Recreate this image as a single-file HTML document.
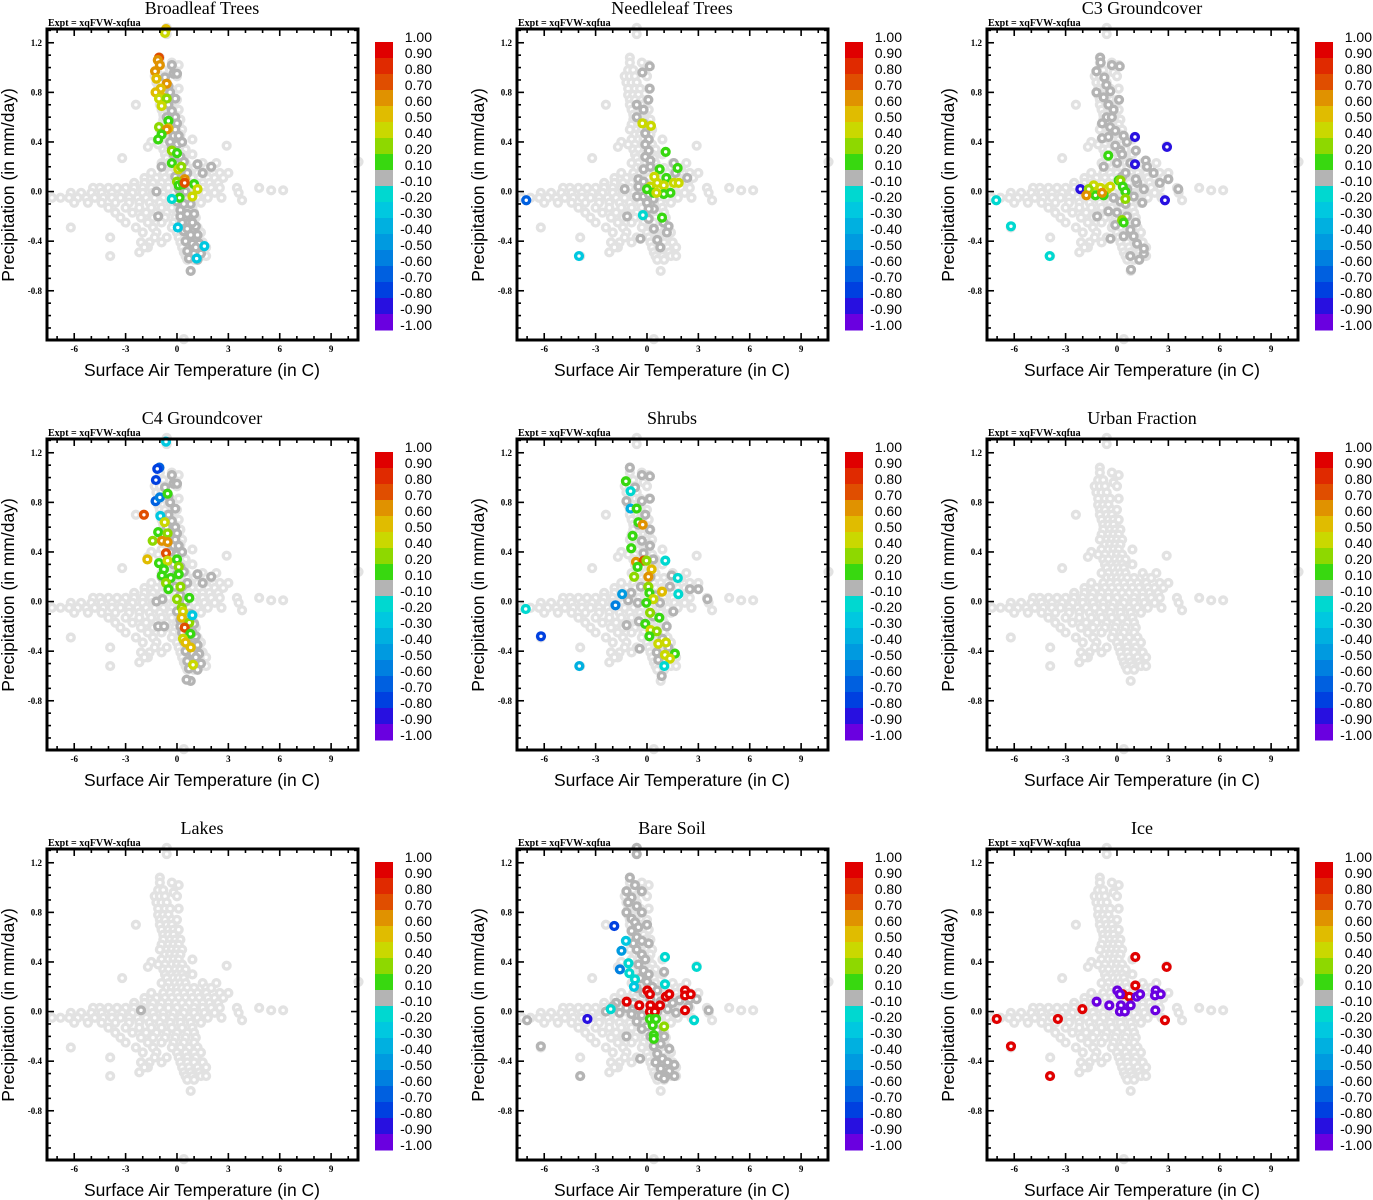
<!DOCTYPE html>
<html><head><meta charset="utf-8">
<style>
html,body{margin:0;padding:0;background:#fff;}
svg{display:block;}
.ttl{font-family:"Liberation Serif",serif;font-size:18px;}
.expt{font-family:"Liberation Serif",serif;font-size:10px;font-weight:bold;}
.tick{font-family:"Liberation Serif",serif;font-size:9px;font-weight:bold;}
.axt{font-family:"Liberation Sans",sans-serif;font-size:17.5px;}
.cbl{font-family:"Liberation Sans",sans-serif;font-size:14px;}
</style></head>
<body>
<svg id="chart" width="1373" height="1200" viewBox="0 0 1373 1200" xmlns="http://www.w3.org/2000/svg"></svg>
<script>
// ---- data ----
const panelTitles = ["Broadleaf Trees","Needleleaf Trees","C3 Groundcover","C4 Groundcover","Shrubs","Urban Fraction","Lakes","Bare Soil","Ice"];
const xTicks = [-6,-3,0,3,6,9];
const yTicks = [1.2,0.8,0.4,0.0,-0.4,-0.8];
const yTickLabels = ["1.2","0.8","0.4","0.0","-0.4","-0.8"];
const cbEdges = [1.0,0.9,0.8,0.7,0.6,0.5,0.4,0.2,0.1,-0.1,-0.2,-0.3,-0.4,-0.5,-0.6,-0.7,-0.8,-0.9,-1.0];
const cbLabels = ["1.00","0.90","0.80","0.70","0.60","0.50","0.40","0.20","0.10","-0.10","-0.20","-0.30","-0.40","-0.50","-0.60","-0.70","-0.80","-0.90","-1.00"];
const cbColors = ["#e00000","#e02a00","#e04e00","#e09200","#e0bc00","#cad800","#8ed800","#38d810","#b4b4b4","#00d8d0","#00c8e0","#00b0e0","#009ae0","#0080e0","#0060e0","#0040e0","#2810e0","#6a00e0"];

// background cloud (all panels), [temp, precip]
const bgPoints = [
[-0.6,1.32],[-0.6,1.27],[-1.0,1.08],[-1.0,1.04],[-0.3,1.04],[0.1,1.02],[-1.1,0.98],[-0.8,0.98],[-0.2,0.96],
[-1.3,0.93],[-1.0,0.93],[-0.7,0.93],[0.0,0.93],[-1.2,0.88],[-0.9,0.88],[-0.6,0.88],[-1.1,0.83],[-0.7,0.83],[-0.4,0.83],[0.1,0.83],
[-1.1,0.78],[-0.8,0.78],[-0.5,0.78],[-1.0,0.74],[-0.7,0.74],[-0.3,0.74],[0.0,0.74],[-2.4,0.70],[-1.0,0.70],[-0.6,0.70],[-0.3,0.70],
[-0.9,0.66],[-0.5,0.66],[-0.2,0.66],[0.1,0.66],[-0.8,0.62],[-0.5,0.62],[-0.2,0.62],[-0.8,0.58],[-0.4,0.58],[-0.1,0.58],[0.2,0.58],
[-0.9,0.54],[-0.5,0.54],[-0.2,0.54],[0.1,0.54],[-1.0,0.50],[-0.6,0.50],[-0.3,0.50],[0.0,0.50],[0.3,0.50],
[-0.7,0.46],[-0.4,0.46],[-0.1,0.46],[0.2,0.46],[-0.9,0.42],[-0.5,0.42],[-0.2,0.42],[0.1,0.42],[0.9,0.42],
[-1.5,0.40],[-1.7,0.36],[-1.1,0.38],[-0.7,0.38],[-0.3,0.38],[0.0,0.38],[0.3,0.38],[2.9,0.37],
[-0.8,0.34],[-0.5,0.34],[-0.1,0.34],[0.2,0.34],[0.5,0.34],[-0.7,0.30],[-0.3,0.30],[0.0,0.30],[0.3,0.30],[0.9,0.30],
[-3.2,0.27],[-0.6,0.27],[-0.2,0.27],[0.1,0.27],[0.4,0.27],[-0.9,0.23],[-0.5,0.23],[-0.1,0.23],[0.2,0.23],[0.5,0.23],[1.5,0.23],[2.3,0.23],
[-0.6,0.19],[-0.3,0.19],[0.0,0.19],[0.3,0.19],[0.6,0.19],[1.0,0.19],[1.7,0.19],[2.0,0.19],[10.6,0.24],
[-1.5,0.15],[-0.8,0.15],[-0.4,0.15],[0.0,0.15],[0.4,0.15],[0.8,0.15],[1.2,0.15],[1.7,0.15],[2.5,0.15],[3.0,0.15],
[-1.9,0.11],[-1.2,0.11],[-0.7,0.11],[-0.3,0.11],[0.1,0.11],[0.5,0.11],[0.9,0.11],[1.3,0.11],[1.8,0.11],[2.2,0.11],[2.7,0.11],
[-2.5,0.07],[-1.9,0.07],[-1.4,0.07],[-0.9,0.07],[-0.5,0.07],[-0.1,0.07],[0.3,0.07],[0.7,0.07],[1.1,0.07],[1.5,0.07],[1.9,0.07],[2.4,0.07],
[-4.9,0.03],[-4.5,0.03],[-4.0,0.03],[-3.5,0.03],[-3.0,0.03],[-2.5,0.03],[-2.0,0.03],[-1.5,0.03],[-1.0,0.03],[-0.5,0.03],[0.0,0.03],[0.5,0.03],[1.0,0.03],[1.5,0.03],[2.0,0.03],[2.5,0.03],[3.5,0.03],[4.8,0.03],[5.5,0.01],[6.2,0.01],
[-6.2,-0.01],[-5.6,-0.01],[-5.0,-0.01],[-4.4,-0.01],[-3.8,-0.01],[-3.2,-0.01],[-2.6,-0.01],[-2.0,-0.01],[-1.4,-0.01],[-0.8,-0.01],[-0.2,-0.01],[0.4,-0.01],[1.0,-0.01],[1.6,-0.01],[2.2,-0.01],[3.6,-0.01],
[-7.3,-0.05],[-6.8,-0.05],[-6.3,-0.05],[-5.8,-0.05],[-5.3,-0.05],[-4.8,-0.05],[-4.3,-0.05],[-3.8,-0.05],[-3.3,-0.05],[-2.8,-0.05],[-2.3,-0.05],[-1.8,-0.05],[-1.3,-0.05],[-0.8,-0.05],[-0.3,-0.05],[0.2,-0.05],[0.7,-0.05],[1.2,-0.05],[1.8,-0.05],[2.6,-0.05],[3.8,-0.07],
[-6.0,-0.09],[-5.2,-0.09],[-4.4,-0.09],[-3.6,-0.09],[-2.8,-0.09],[-2.2,-0.09],[-1.6,-0.09],[-1.0,-0.09],[-0.4,-0.09],[0.2,-0.09],[0.8,-0.09],[1.4,-0.09],
[-4.0,-0.13],[-3.0,-0.13],[-2.2,-0.13],[-1.5,-0.13],[-0.9,-0.13],[-0.3,-0.13],[0.3,-0.13],[0.9,-0.13],
[-3.6,-0.17],[-2.6,-0.17],[-1.8,-0.17],[-1.2,-0.17],[-0.6,-0.17],[0.0,-0.17],[0.6,-0.17],[1.0,-0.17],
[-3.3,-0.21],[-2.1,-0.21],[-1.4,-0.21],[-0.7,-0.21],[-0.1,-0.21],[0.5,-0.21],[1.1,-0.21],
[-3.0,-0.25],[-1.7,-0.25],[-0.9,-0.25],[-0.2,-0.25],[0.4,-0.25],[1.0,-0.25],
[-6.2,-0.29],[-2.4,-0.29],[-1.4,-0.29],[-0.3,-0.29],[0.2,-0.29],[0.7,-0.29],[1.2,-0.29],
[-2.0,-0.33],[-1.2,-0.33],[0.0,-0.33],[0.5,-0.33],[1.0,-0.33],[1.4,-0.33],
[-3.9,-0.37],[-1.3,-0.37],[-0.6,-0.37],[0.1,-0.37],[0.6,-0.37],[1.1,-0.37],
[-2.1,-0.41],[-1.6,-0.41],[-0.9,-0.41],[0.2,-0.41],[0.6,-0.41],[1.0,-0.41],[1.5,-0.41],
[-1.7,-0.45],[-1.9,-0.45],[0.3,-0.45],[0.7,-0.45],[1.2,-0.45],[1.7,-0.45],
[-2.2,-0.49],[0.4,-0.49],[0.8,-0.49],[1.3,-0.49],[-3.9,-0.52],[0.5,-0.52],[0.9,-0.52],[1.4,-0.52],[1.7,-0.52],
[0.6,-0.55],[1.0,-0.55],[0.8,-0.64],[0.4,-1.19]
];

// dark gray (near-zero correlation) points per panel
const bandDarkA = [
[-0.3,1.02],[-0.2,0.95],[-0.7,0.92],[0.0,0.95],[-0.5,0.85],[-0.4,0.8],[-0.1,0.75],[-0.5,0.7],[-0.3,0.65],[-0.1,0.6],[-0.6,0.6],[-0.4,0.55],[0.0,0.55],
[-0.2,0.45],[0.1,0.45],[-0.4,0.4],[0.0,0.38],[0.3,0.4],[-0.2,0.3],[0.2,0.28],[0.0,0.22],[0.4,0.24],[-0.1,0.12],[0.3,0.12],[0.6,0.15],[-0.9,0.2],
[0.1,0.02],[0.5,0.0],[0.0,-0.08],[0.4,-0.1],[0.8,-0.1],[0.2,-0.15],[0.6,-0.18],[1.0,-0.18],[0.3,-0.25],[0.7,-0.25],[1.1,-0.28],
[0.4,-0.32],[0.8,-0.35],[1.2,-0.35],[0.5,-0.4],[0.9,-0.42],[1.3,-0.42],[0.6,-0.48],[1.0,-0.5],[1.4,-0.5],[0.7,-0.54],[1.2,-0.55],
[0.8,-0.64],[1.2,0.22],[1.5,0.15],[-1.2,0.0],[-1.1,-0.2],[2.0,0.2],[-0.1,0.5],[-0.3,0.35],[0.2,0.05],[0.6,-0.3],[0.9,-0.25],[0.2,-0.2],[1.1,-0.45]
];
const darkNeedle = [
[0.16,1.01],[-0.27,0.96],[0.16,0.83],[0.08,0.74],[-0.6,0.7],[-0.2,0.66],[-0.6,0.6],[-0.2,0.55],[-0.1,0.47],[0.1,0.42],[-0.1,0.38],[0.1,0.33],[-0.1,0.28],[0.2,0.25],
[-0.2,0.18],[-0.5,0.1],[0.2,0.2],[1.57,0.23],[2.35,0.11],[1.66,0.15],[-0.58,-0.04],[0.0,-0.09],[0.4,-0.14],[0.1,-0.22],[0.97,-0.25],[1.26,-0.28],
[1.16,-0.33],[0.6,-0.39],[0.78,-0.45],[-0.38,-0.38],[-1.3,0.02],[-1.16,-0.2],[0.1,-0.14],[0.39,-0.06],[-0.2,-0.04],[-0.5,0.04],[-0.2,0.08],[0.4,-0.3],[0.1,-0.02]
];
const darkC3 = [
[-0.98,1.08],[-0.95,1.04],[-0.3,1.02],[0.16,1.01],[-1.2,0.97],[-0.74,0.92],[-0.62,0.86],[-1.2,0.8],[-0.39,0.81],[-0.78,0.76],[0.12,0.74],[-0.5,0.7],[-0.2,0.66],
[-0.6,0.6],[-0.3,0.6],[-0.87,0.55],[-0.4,0.52],[-0.87,0.43],[-0.1,0.49],[0.39,0.45],[-0.5,0.44],[-0.1,0.37],[0.58,0.4],[0.2,0.33],[-0.78,0.2],[0.0,0.23],[0.78,0.23],
[1.68,0.25],[1.75,0.2],[2.14,0.15],[3.0,0.1],[2.5,0.07],[1.18,0.07],[1.57,0.02],[3.58,0.02],[0.98,-0.04],[1.48,-0.09],[-0.2,-0.05],[-0.5,-0.16],
[-1.16,-0.2],[0.0,-0.17],[0.58,-0.2],[0.78,-0.31],[-0.38,-0.38],[0.97,-0.36],[1.17,-0.42],[1.57,-0.5],[0.78,-0.52],[1.57,-0.46],[0.82,-0.63],
[-0.1,-0.27],[0.39,-0.36],[1.1,0.33],[1.1,0.1],[0.3,0.12],[0.6,0.02],[0.2,-0.08],[0.5,-0.1],[1.1,-0.25],[1.3,-0.55],[0.3,0.3],[0.5,0.15]
];
const darkC4 = bandDarkA.concat([[-0.85,0.02],[-0.75,-0.2],[0.56,-0.63]]);
const darkShrubs = [
[-1.0,1.08],[-0.3,1.02],[0.17,1.01],[-0.7,0.92],[0.17,0.83],[-1.2,0.81],[-0.3,0.81],[-0.1,0.7],[-0.5,0.62],[0.17,0.58],[-0.3,0.49],[0.17,0.45],[-0.2,0.39],
[0.37,0.34],[1.44,0.21],[2.5,0.1],[3.0,0.1],[3.53,0.02],[1.34,0.12],[-0.35,0.12],[-0.92,0.07],[-1.1,0.01],[-0.53,-0.01],[0.76,-0.01],[1.54,-0.08],
[-1.19,-0.19],[-0.47,-0.16],[0.37,-0.12],[1.15,-0.2],[-0.43,-0.38],[0.57,-0.41],[1.25,-0.37],[0.66,-0.47],[0.86,-0.6],[0.2,0.2],[0.5,0.05],[0.9,-0.3]
];
const darkUrban = [];
const darkLakes = [[-2.1,0.01]];
const darkBare = [
[-1.0,1.08],[-0.7,1.02],[-0.3,0.97],[-1.2,0.97],[-0.9,0.92],[-1.1,0.88],[-0.6,0.85],[-1.2,0.8],[-0.9,0.75],[-0.7,0.72],[-0.5,0.68],[-0.9,0.65],[-0.6,0.6],
[-0.3,0.57],[-0.8,0.55],[-0.6,0.5],[-0.3,0.46],[-0.1,0.42],[-0.5,0.38],[-0.2,0.33],[0.1,0.3],[1.0,0.32],[-0.4,0.27],[0.0,0.24],[0.3,0.2],[-0.6,0.19],
[0.6,0.17],[-0.2,0.15],[0.2,0.1],[2.9,0.1],[2.5,0.1],[-1.8,0.07],[-2.0,0.04],[-1.2,0.03],[-0.8,0.07],[-0.5,0.02],[0.8,0.08],[1.5,0.07],[1.9,0.09],[3.6,0.01],
[-2.4,0.0],[-1.6,-0.01],[-0.9,-0.02],[-0.3,-0.03],[0.6,0.0],[1.2,0.02],[1.7,-0.01],[2.4,0.04],[-7.0,-0.07],[-0.6,-0.08],[0.0,-0.12],[-0.3,-0.14],
[0.6,-0.15],[1.0,-0.2],[-1.2,-0.2],[0.2,-0.2],[0.8,-0.26],[0.4,-0.28],[1.3,-0.3],[0.6,-0.34],[0.9,-0.38],[-0.4,-0.38],[0.5,-0.41],[1.2,-0.41],
[1.6,-0.43],[0.8,-0.46],[1.3,-0.48],[0.7,-0.52],[1.1,-0.52],[1.6,-0.52],[1.0,-0.54],[-6.2,-0.28],[-3.9,-0.52],[-0.6,1.32],[-0.6,1.27],[0.1,0.55],[0.0,0.7],[-0.3,0.8]
];
const darkIce = [];

// coloured points per panel, [temp, precip, correlation]
const colBroadleaf = [
[-0.64,1.31,0.5],[-0.7,1.28,0.4],[-1.05,1.08,0.7],[-1.12,1.06,0.6],[-1.0,1.02,0.6],[-1.28,0.97,0.6],[-1.2,0.91,0.5],[-0.6,0.87,0.6],[-0.95,0.83,0.5],
[-1.25,0.8,0.5],[-0.85,0.76,0.5],[-1.05,0.75,0.4],[-0.6,0.75,0.2],[-0.9,0.69,0.4],[-0.5,0.57,0.1],[-1.05,0.52,0.2],[-0.5,0.51,0.5],[-0.6,0.5,0.6],
[-0.9,0.46,0.1],[-1.1,0.42,0.1],[-0.3,0.33,0.2],[0.0,0.31,0.1],[-0.3,0.23,0.1],[0.08,0.18,0.4],[0.25,0.2,0.2],[0.45,0.1,0.6],[0.0,0.08,0.2],
[0.1,0.05,0.1],[0.35,0.06,0.1],[1.0,0.06,0.1],[1.2,0.02,0.4],[0.9,-0.04,0.4],[0.15,-0.05,0.1],[0.45,0.07,0.7],[-0.3,-0.06,-0.2],[0.05,-0.29,-0.3],
[1.6,-0.44,-0.3],[1.15,-0.54,-0.3]
];
const colNeedle = [
[-7.05,-0.07,-0.7],[-3.97,-0.52,-0.3],[-0.27,0.55,0.4],[0.23,0.53,0.4],[1.09,0.32,0.1],[0.74,0.18,0.1],[1.79,0.19,0.1],[0.43,0.12,0.4],[1.13,0.11,0.1],
[0.6,0.07,0.4],[0.98,0.05,0.4],[1.57,0.07,0.4],[1.85,0.07,0.4],[0.2,0.04,0.4],[0.0,0.02,0.1],[0.39,-0.01,0.1],[0.98,-0.02,0.1],[1.37,-0.01,0.1],
[0.55,-0.01,0.4],[0.88,-0.21,0.1],[-0.24,-0.19,-0.2]
];
const colC3 = [
[-7.05,-0.07,-0.2],[-6.19,-0.28,-0.2],[-3.93,-0.52,-0.2],[1.05,0.44,-0.9],[2.92,0.36,-0.9],[1.05,0.22,-0.9],[2.8,-0.07,-0.9],[-2.14,0.02,-0.9],
[-0.51,0.29,0.1],[-1.36,0.05,0.4],[-0.97,0.03,0.4],[-0.58,0.02,0.4],[-0.39,0.04,0.4],[-1.26,-0.03,0.1],[-0.78,-0.03,0.1],[-1.65,0.02,0.2],
[-1.79,-0.03,0.6],[-0.87,-0.01,0.6],[0.1,0.09,0.1],[0.2,0.09,0.2],[0.34,0.04,0.1],[0.49,0.0,0.1],[0.49,-0.06,0.2],[0.3,-0.23,0.2],[0.39,-0.25,0.1]
];
const colC4 = [
[-0.64,1.29,-0.3],[-1.03,1.08,-0.7],[-1.15,1.07,-0.8],[-1.23,0.98,-0.8],[-1.25,0.81,-0.7],[-1.0,0.84,-0.6],[-0.55,0.87,0.1],[-1.93,0.70,0.7],
[-0.97,0.69,-0.3],[-0.72,0.64,0.4],[-1.1,0.56,0.1],[-0.55,0.55,0.2],[-1.42,0.49,0.2],[-0.88,0.49,0.6],[-0.55,0.48,0.6],[-0.64,0.39,0.7],
[-1.73,0.34,0.5],[-1.05,0.31,0.1],[-0.55,0.33,0.4],[0.0,0.34,0.1],[0.1,0.28,0.2],[-0.76,0.26,0.1],[-0.88,0.21,0.1],[-0.37,0.19,0.1],[-0.64,0.15,0.2],
[0.1,0.22,0.1],[-0.5,0.1,0.1],[0.2,0.12,0.2],[0.0,0.02,0.2],[0.72,0.03,0.1],[0.28,-0.05,0.2],[0.35,-0.08,0.4],[0.28,-0.13,0.5],[0.72,-0.17,0.2],
[0.45,-0.21,0.7],[0.78,-0.26,0.1],[0.35,-0.3,0.4],[0.5,-0.33,0.5],[0.8,-0.37,0.5],[0.94,-0.51,0.4],[0.9,-0.11,-0.3]
];
const colShrubs = [
[-7.08,-0.06,-0.2],[-6.19,-0.28,-0.8],[-3.95,-0.52,-0.4],[-1.23,0.97,0.1],[-0.96,0.89,-0.2],[-0.96,0.75,-0.4],[-0.6,0.75,0.1],[-0.5,0.64,0.1],
[-0.25,0.62,0.6],[-0.84,0.53,0.1],[-0.92,0.43,0.1],[-0.64,0.32,0.6],[-0.18,0.33,0.7],[-0.55,0.28,0.1],[-0.03,0.33,0.2],[1.07,0.33,-0.2],
[-0.75,0.2,0.2],[0.27,0.26,0.5],[0.08,0.2,0.6],[1.8,0.19,-0.2],[0.08,0.12,0.2],[0.14,0.07,0.1],[0.88,0.08,0.5],[0.37,0.02,0.4],[-0.04,-0.01,0.1],
[-1.84,-0.03,-0.6],[-1.45,0.06,-0.5],[0.18,-0.09,0.2],[0.72,-0.13,0.1],[-0.1,-0.18,0.1],[0.21,-0.23,0.4],[0.57,-0.24,0.2],[0.14,-0.28,0.1],
[0.66,-0.34,0.4],[1.11,-0.33,0.4],[1.63,-0.42,0.1],[1.05,-0.43,0.4],[1.34,-0.46,0.4],[1.01,-0.52,-0.2],[1.83,0.06,-0.2]
];
const colUrban = [];
const colLakes = [];
const colBare = [
[-1.91,0.69,-0.8],[-1.23,0.57,-0.3],[-1.49,0.49,-0.5],[-1.58,0.34,-0.6],[-1.08,0.39,-0.2],[-1.03,0.31,-0.2],[-0.7,0.26,-0.2],[-0.76,0.2,-0.3],
[1.05,0.44,-0.2],[2.9,0.36,-0.2],[1.05,0.22,-0.2],[-2.12,0.02,-0.2],[2.75,-0.07,-0.2],[-3.48,-0.06,-0.9],
[-1.19,0.08,0.9],[-0.45,0.05,0.9],[0.02,0.17,0.9],[0.17,0.14,0.9],[0.2,0.05,0.9],[0.17,0.0,0.9],[0.46,0.0,0.9],[0.76,0.05,0.9],[1.1,0.12,0.9],
[1.3,0.14,0.9],[2.22,0.17,0.9],[2.22,0.13,0.9],[2.55,0.14,0.9],[2.22,0.01,0.9],
[0.17,-0.06,0.1],[0.46,-0.06,0.1],[0.33,-0.11,0.1],[1.0,-0.12,0.2],[0.4,-0.19,0.1],[0.53,-0.06,0.1],[0.4,-0.22,0.1]
];
const colIce = [
[-7.02,-0.06,0.95],[-6.19,-0.28,0.95],[-3.91,-0.52,0.95],[-3.45,-0.06,0.95],[-2.02,0.02,0.95],[1.07,0.44,0.95],[2.9,0.36,0.95],[1.07,0.21,0.95],
[0.33,0.14,0.95],[0.72,0.12,0.95],[2.8,-0.07,0.95],
[-1.19,0.08,-0.95],[-0.45,0.05,-0.95],[0.02,0.17,-0.95],[0.17,0.14,-0.95],[0.23,0.05,-0.95],[0.17,0.0,-0.95],[0.46,0.0,-0.95],[0.8,0.05,-0.95],
[1.15,0.12,-0.95],[1.35,0.14,-0.95],[2.26,0.17,-0.95],[2.22,0.13,-0.95],[2.55,0.14,-0.95],[2.24,0.01,-0.95]
];
const panelDark = [bandDarkA, darkNeedle, darkC3, darkC4, darkShrubs, darkUrban, darkLakes, darkBare, darkIce];
const panelCol = [colBroadleaf, colNeedle, colC3, colC4, colShrubs, colUrban, colLakes, colBare, colIce];

// ---- drawing ----
const NS = "http://www.w3.org/2000/svg";
const svg = document.getElementById("chart");
const X_MIN = -7.59, X_MAX = 10.57, Y_MIN = -1.197, Y_MAX = 1.311;
const PW = 311, PH = 311;
const MR = 3.4, MW = 3.4;
function mk(tag, attrs, parent){ const e=document.createElementNS(NS,tag); for(const k in attrs) e.setAttribute(k,attrs[k]); (parent||svg).appendChild(e); return e; }
function colorFor(v){
  for(let i=0;i<cbColors.length;i++){ if(v<=cbEdges[i] && v>=cbEdges[i+1]) return cbColors[i]; }
  return v>0?cbColors[0]:cbColors[cbColors.length-1];
}
function slug(s){ return s.toLowerCase().replace(/[^a-z0-9]+/g,'-'); }

panelTitles.forEach((title,p)=>{
  const col=p%3,row=Math.floor(p/3);
  const ox=47+col*470, oy=29+row*410;
  const sx=t=>ox+(t-X_MIN)/(X_MAX-X_MIN)*PW;
  const sy=v=>oy+(Y_MAX-v)/(Y_MAX-Y_MIN)*PH;
  const g=mk("g",{});
  
  

  const t=mk("text",{x:ox+155,y:oy-15,"text-anchor":"middle",class:"ttl"},g); t.textContent=title;
  
  
  const ex=mk("text",{x:ox+1,y:oy-3,class:"expt"},g); ex.textContent="Expt = xqFVW-xqfua";
  
  

  // points
  const pts=mk("g",{"stroke-width":MW,fill:"#ffffff"},g);
  
  
  bgPoints.forEach(d=>{ const c=mk("circle",{cx:sx(d[0]),cy:sy(d[1]),r:MR,stroke:"#e2e2e2"},pts);
    
     });
  panelDark[p].forEach(d=>{ const c=mk("circle",{cx:sx(d[0]),cy:sy(d[1]),r:MR,stroke:"#b4b4b4"},pts);
    
     });
  panelCol[p].forEach(d=>{ const c=mk("circle",{cx:sx(d[0]),cy:sy(d[1]),r:MR,stroke:colorFor(d[2])},pts);
    
     });

  // frame
  const fr=mk("rect",{x:ox,y:oy,width:PW,height:PH,fill:"none",stroke:"#000","stroke-width":3},g);
  
  
  // ticks
  const tk=mk("g",{stroke:"#000","stroke-width":1.6},g);
  
  
  for(let v=-7;v<=10;v++){ const x=sx(v), L=(v%3===0)?7:4;
    mk("line",{x1:x,y1:oy,x2:x,y2:oy+L},tk); mk("line",{x1:x,y1:oy+PH,x2:x,y2:oy+PH-L},tk); }
  for(let i=-11;i<=13;i++){ const v=i/10, y=sy(v), L=(i%4===0)?7:4;
    mk("line",{x1:ox,y1:y,x2:ox+L,y2:y},tk); mk("line",{x1:ox+PW,y1:y,x2:ox+PW-L,y2:y},tk); }
  xTicks.forEach(v=>{ const l=mk("text",{x:sx(v),y:oy+PH+12,"text-anchor":"middle",class:"tick"},g); l.textContent=String(v);
    
     });
  yTicks.forEach((v,i)=>{ const l=mk("text",{x:ox-5,y:sy(v)+3,"text-anchor":"end",class:"tick"},g); l.textContent=yTickLabels[i];
    
     });
  const xt=mk("text",{x:ox+155,y:oy+PH+36,"text-anchor":"middle",class:"axt"},g); xt.textContent="Surface Air Temperature (in C)";
  
  
  const yt=mk("text",{x:0,y:0,"text-anchor":"middle",class:"axt",transform:`translate(${ox-33},${oy+156}) rotate(-90)`},g); yt.textContent="Precipitation (in mm/day)";
  
  

  // colorbar
  const cb=mk("g",{},g);
  
  
  const cbx=ox+328, cby=oy+13, bh=16;
  cbColors.forEach((c,i)=>{ const r=mk("rect",{x:cbx,y:cby+i*bh,width:18,height:bh+0.5,fill:c},cb);
    
     });
  cbLabels.forEach((s,i)=>{ const l=mk("text",{x:cbx+57,y:cby+i*bh,"text-anchor":"end",class:"cbl"},cb); l.textContent=s;
    
     });
});
</script>
</body></html>
